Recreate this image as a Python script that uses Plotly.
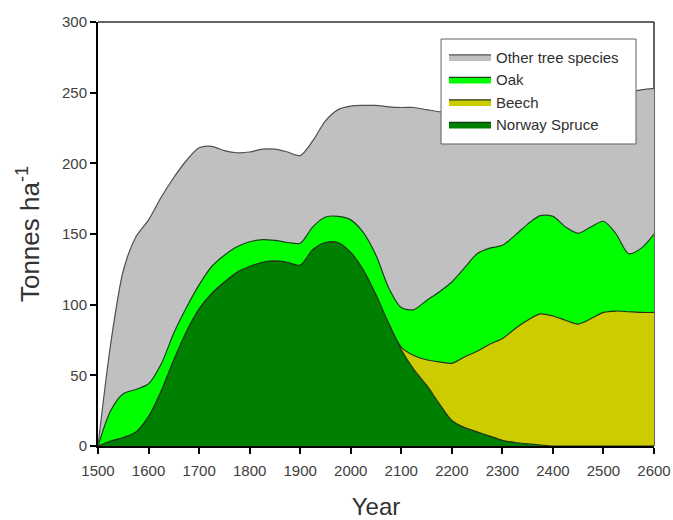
import plotly.graph_objects as go

years = list(range(1500, 2601, 25))

norway_spruce = [0, 3.5, 6, 10, 21, 39, 61, 81, 97, 108, 116, 123, 127, 130, 131, 130, 128,
                 139, 144, 144, 137, 124.5, 107, 87, 68, 54, 43, 30, 18, 13, 10, 7, 4, 2.5,
                 1.5, 0.7, 0, 0, 0, 0, 0, 0, 0, 0, 0]
beech = [0] * 24 + [2, 10, 18, 29.5, 40.5, 50, 57, 65, 72, 80.5, 87.5, 92.8, 92, 89, 86.3,
                    90, 94.5, 95.5, 95, 94.5, 94.5]
oak = [0, 21.5, 31, 30, 23, 19, 19, 17, 17, 19, 19, 18, 17.5, 16, 14.5, 14, 15.5, 16, 18,
       18.5, 23, 26.5, 28, 25, 28, 32.5, 42, 49.5, 57.5, 63, 69, 68, 66, 66, 68, 69.5, 70.5,
       66, 64.2, 65, 64.5, 54.5, 41, 45.5, 55.5]
other = [0, 47, 87, 108, 116, 118, 110, 104, 97, 85, 74, 66.5, 63.5, 64, 64.5, 64, 62, 61,
         68, 75.5, 80.5, 90, 106, 128, 141.5, 143, 135, 127.5, 120, 111, 102, 99, 98, 92, 85,
         80, 81.5, 90, 95.5, 92, 89, 99, 114.5, 112, 103]

x_ticks = list(range(1500, 2601, 100))
y_ticks = list(range(0, 301, 50))

series = [
    ("Norway Spruce", norway_spruce, "#008000", "#1a331a"),
    ("Beech", beech, "#CCCC00", "#26331a"),
    ("Oak", oak, "#00FF00", "#1a401a"),
    ("Other tree species", other, "#C0C0C0", "#505050"),
]

fig = go.Figure()
for name, vals, fillc, linec in series:
    fig.add_trace(go.Scatter(
        x=years, y=vals, name=name, mode="lines", stackgroup="one",
        line=dict(shape="spline", smoothing=0.8, color=linec, width=1.2),
        fillcolor=fillc, hoverinfo="skip",
    ))

# top and right frame lines, drawn beneath the filled areas
fig.add_shape(type="line", xref="paper", yref="paper", x0=0, x1=1, y0=1, y1=1,
              line=dict(color="#303030", width=1.5), layer="below")
fig.add_shape(type="line", xref="paper", yref="paper", x0=1, x1=1, y0=0, y1=1,
              line=dict(color="#303030", width=1.5), layer="below")

# legend frame box (drawn beneath the legend entries)
fig.add_shape(
    type="rect", xref="paper", yref="paper",
    x0=0.617, x1=0.9676, y0=0.7123, y1=0.9599,
    fillcolor="white", line=dict(color="#606060", width=1), layer="above",
)

font_family = "Liberation Sans, Arial, sans-serif"
fig.update_layout(
    width=673, height=520,
    margin=dict(l=98, r=19, t=22, b=74),
    paper_bgcolor="white", plot_bgcolor="white",
    font=dict(family=font_family, color="#404040"),
    showlegend=True,
    legend=dict(
        x=0.6223, y=0.956, xanchor="left", yanchor="top",
        traceorder="reversed", bgcolor="rgba(0,0,0,0)",
        borderwidth=0,
        font=dict(size=15, color="#303030"),
        itemwidth=42,
    ),
    xaxis=dict(
        range=[1500, 2600], tickmode="array", tickvals=x_ticks,
        ticks="outside", ticklen=6, tickwidth=1.5, tickcolor="black",
        showline=True, linecolor="black", linewidth=1.5, mirror=False,
        showgrid=False, zeroline=False, layer="below traces", automargin=False,
        tickfont=dict(size=15, color="#404040"), ticklabelstandoff=4,
        title=dict(text="Year", font=dict(size=24, color="#333333"), standoff=22),
    ),
    yaxis=dict(
        range=[0, 300], tickmode="array", tickvals=y_ticks,
        ticks="outside", ticklen=6, tickwidth=1.5, tickcolor="black",
        showline=True, linecolor="black", linewidth=2, mirror=False,
        showgrid=False, zeroline=False, layer="below traces", automargin=False,
        tickfont=dict(size=15, color="#404040"),
        title=dict(text="Tonnes ha<sup>-1</sup>", font=dict(size=26, color="#333333"), standoff=15),
    ),
)

fig.write_html("out.html", config={"displayModeBar": False},
               post_script="document.body.style.margin='0px';")
